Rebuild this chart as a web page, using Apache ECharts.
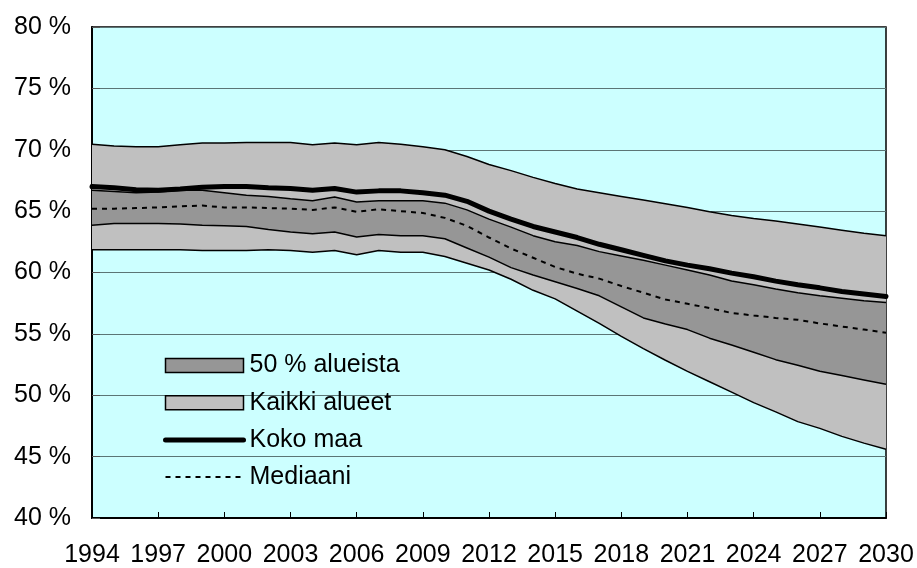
<!DOCTYPE html>
<html>
<head>
<meta charset="utf-8">
<script src="https://cdn.jsdelivr.net/npm/echarts@6/dist/echarts.min.js"></script>
<style>
  html, body { margin: 0; padding: 0; background: #fff; }
  #chart { width: 917px; height: 568px; }
</style>
</head>
<body>
<div id="chart"></div>
<script>
// years on the x axis
var years = [];
for (var y = 1994; y <= 2030; y++) years.push(String(y));

// Kaikki alueet: lowest and highest region
var kaikkiMin = [61.85, 61.85, 61.85, 61.85, 61.85, 61.8, 61.8, 61.8, 61.85, 61.8,
  61.65, 61.8, 61.45, 61.8, 61.65, 61.65, 61.3, 60.75, 60.2, 59.45,
  58.55, 57.85, 56.85, 55.85, 54.8, 53.8, 52.85, 51.95, 51.1, 50.25,
  49.4, 48.65, 47.85, 47.3, 46.65, 46.1, 45.6];
var kaikkiMax = [70.45, 70.3, 70.25, 70.25, 70.4, 70.55, 70.55, 70.6, 70.6, 70.6,
  70.4, 70.55, 70.4, 70.6, 70.45, 70.25, 70.0, 69.45, 68.8, 68.3,
  67.75, 67.25, 66.8, 66.5, 66.2, 65.9, 65.6, 65.3, 64.95, 64.65,
  64.4, 64.2, 63.95, 63.7, 63.45, 63.2, 63.0];

// 50 % alueista: lower and upper quartile
var q25 = [63.85, 64.0, 64.0, 64.0, 63.95, 63.85, 63.8, 63.75, 63.5, 63.3,
  63.15, 63.3, 62.9, 63.1, 63.0, 63.0, 62.75, 62.0, 61.25, 60.4,
  59.8, 59.25, 58.7, 58.1, 57.2, 56.3, 55.8, 55.35, 54.65, 54.1,
  53.5, 52.9, 52.45, 51.95, 51.6, 51.25, 50.9];
var q75 = [66.7, 66.6, 66.5, 66.55, 66.7, 66.7, 66.5, 66.3, 66.2, 66.0,
  65.85, 66.15, 65.75, 65.85, 65.85, 65.85, 65.65, 65.1, 64.35, 63.7,
  63.0, 62.5, 62.2, 61.7, 61.35, 61.0, 60.6, 60.2, 59.8, 59.3,
  59.0, 58.65, 58.35, 58.1, 57.9, 57.7, 57.55];

var kokoMaa = [67.0, 66.9, 66.75, 66.7, 66.8, 66.95, 67.0, 67.0, 66.9, 66.85,
  66.7, 66.85, 66.55, 66.65, 66.65, 66.5, 66.3, 65.8, 65.0, 64.35,
  63.75, 63.3, 62.85, 62.3, 61.85, 61.4, 60.95, 60.6, 60.3, 59.95,
  59.65, 59.3, 59.0, 58.75, 58.45, 58.25, 58.05];
var mediaani = [65.2, 65.2, 65.25, 65.3, 65.4, 65.45, 65.3, 65.3, 65.25, 65.2,
  65.1, 65.3, 64.95, 65.15, 65.0, 64.85, 64.45, 63.8, 62.85, 61.95,
  61.2, 60.45, 59.9, 59.5, 58.9, 58.35, 57.8, 57.45, 57.1, 56.7,
  56.5, 56.3, 56.15, 55.85, 55.6, 55.35, 55.1];

function diff(a, b){
  var out = [];
  for (var i = 0; i < a.length; i++) out.push(Math.round((a[i] - b[i]) * 100) / 100);
  return out;
}

var font = 'Liberation Sans, Arial, sans-serif';
var edge = { color: '#000', width: 1.5 };

function band(name, data, fill){
  return {
    name: name, type: 'line', stack: 'range', data: data,
    symbol: 'none', silent: true,
    lineStyle: edge,
    areaStyle: fill ? { color: fill, opacity: 1 } : undefined
  };
}

var chart = echarts.init(document.getElementById('chart'));
chart.setOption({
  animation: false,
  grid: { left: 92, right: 31, top: 27, bottom: 49, show: true,
    backgroundColor: '#CCFFFF', borderColor: '#000', borderWidth: 1.5 },
  legend: {
    orient: 'vertical', left: 163, top: 353, padding: 0,
    itemWidth: 78, itemHeight: 14, itemGap: 12.2,
    textStyle: { fontFamily: font, fontSize: 25, color: '#000', padding: [0, 0, 0, 1] },
    selectedMode: false,
    data: [
      { name: '50 % alueista', icon: 'rect', itemStyle: { color: '#969696', borderColor: '#000', borderWidth: 1.5 } },
      { name: 'Kaikki alueet', icon: 'rect', itemStyle: { color: '#C0C0C0', borderColor: '#000', borderWidth: 1.5 } },
      { name: 'Koko maa', itemStyle: { opacity: 0 }, lineStyle: { width: 5, color: '#000', cap: 'round' } },
      { name: 'Mediaani', itemStyle: { opacity: 0 }, lineStyle: { width: 2, color: '#000', type: [5, 5] } }
    ]
  },
  xAxis: {
    type: 'category', data: years, boundaryGap: false,
    axisLine: { lineStyle: { color: '#000', width: 2 } },
    axisTick: { interval: 2, inside: true, length: 6, lineStyle: { color: '#000' } },
    axisLabel: { interval: 2, margin: 25, fontFamily: font, fontSize: 25, color: '#000' },
    splitLine: { show: false }
  },
  yAxis: {
    type: 'value', min: 40, max: 80, interval: 5,
    axisLine: { show: true, lineStyle: { color: '#000', width: 2 } },
    axisTick: { show: true, inside: true, length: 8, lineStyle: { color: '#555' } },
    axisLabel: { formatter: '{value} %', margin: 21, fontFamily: font, fontSize: 25, color: '#000' },
    splitLine: { lineStyle: { color: '#5b7575', width: 1 } }
  },
  series: [
    band('alin', kaikkiMin, null),
    band('Kaikki alueet', diff(q25, kaikkiMin), '#C0C0C0'),
    band('50 % alueista', diff(q75, q25), '#969696'),
    band('Kaikki alueet', diff(kaikkiMax, q75), '#C0C0C0'),
    { name: 'Koko maa', type: 'line', data: kokoMaa, symbol: 'none', silent: true, z: 5,
      lineStyle: { color: '#000', width: 5, cap: 'round' } },
    { name: 'Mediaani', type: 'line', data: mediaani, symbol: 'none', silent: true, z: 4,
      lineStyle: { color: '#000', width: 2, type: [5, 5] } }
  ]
});
</script>
</body>
</html>
